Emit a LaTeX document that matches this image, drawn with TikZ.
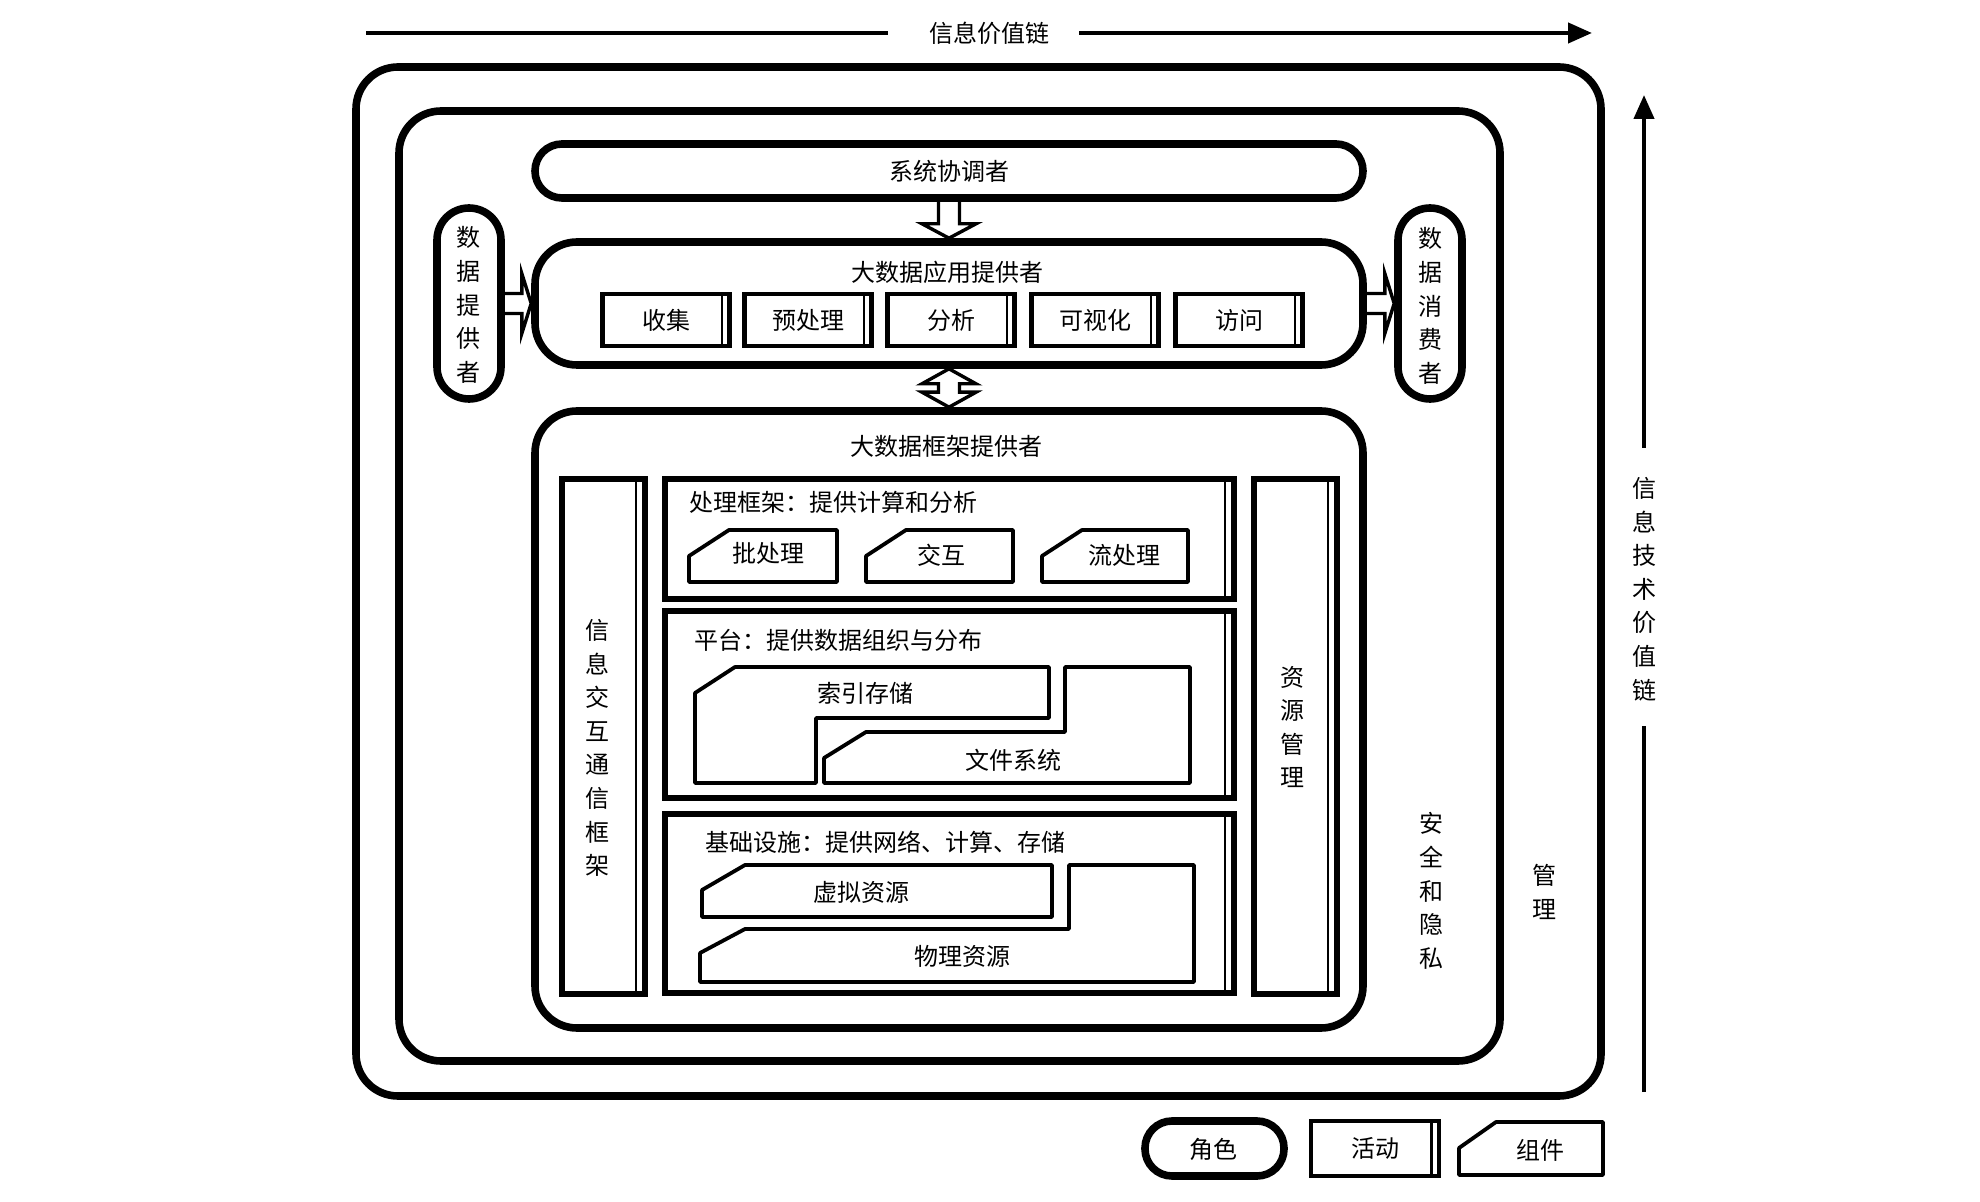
\documentclass[tikz,border=0pt]{standalone}
\usepackage{fontspec}
\newfontfamily\cjk{Noto Sans CJK SC}
\usetikzlibrary{fit,calc,arrows.meta}
\begin{document}
\begin{tikzpicture}[x=0.5pt,y=-0.5pt,
  txt/.style={font=\cjk\fontsize{12pt}{16.8pt}\selectfont, inner sep=0pt, align=center},
  rolebox/.style={draw, line width=3.8pt, rounded corners=21pt, inner sep=0pt},
  pillh/.style={rolebox, rounded corners=13.5pt},
  pillv/.style={rolebox, rounded corners=16pt},
  actbox/.style={draw, line width=2.2pt, inner sep=0pt, minimum width=63.5pt, minimum height=26pt,
    font=\cjk\fontsize{12pt}{16.8pt}\selectfont,
    path picture={\draw[line width=1.1pt] ([xshift=-3.8pt]path picture bounding box.north east) -- ([xshift=-3.8pt]path picture bounding box.south east);}},
  framebox/.style={draw, line width=2.8pt, inner sep=0pt,
    path picture={\draw[line width=1.2pt] ([xshift=-4.6pt]path picture bounding box.north east) -- ([xshift=-4.6pt]path picture bounding box.south east);}},
  comp/.style={draw, line width=1.9pt, line join=round},
  blockarrow/.style={draw, line width=1.7pt, line join=miter},
  chain/.style={line width=2.1pt},
  chaintip/.style={-{Triangle[length=12pt,width=10pt]}}
]
\useasboundingbox (0,0) rectangle (1980,1202);

% information value chain (top)
\coordinate (vcA) at (366,33);
\coordinate (vcB) at (888,33);
\coordinate (vcC) at (1079,33);
\coordinate (vcD) at (1592,33);
\node[txt] (vct) at (989,33) {信息价值链};
\draw[chain] (vcA) -- (vcB);
\draw[chain, chaintip] (vcC) -- (vcD);

% IT value chain (right)
\coordinate (itA) at (1644,1092);
\coordinate (itB) at (1644,726);
\coordinate (itC) at (1644,448);
\coordinate (itD) at (1644,95);
\node[txt] (itt) at (1644,589) {信\\息\\技\\术\\价\\值\\链};
\draw[chain] (itA) -- (itB);
\draw[chain, chaintip] (itC) -- (itD);

% management and security frames
\node[rolebox, fit={(356,67) (1601,1096)}] (mgmt) {};
\node[rolebox, fit={(399,111) (1500,1061)}] (sec) {};
\node[txt] (sect) at (1431,891) {安\\全\\和\\隐\\私};
\node[txt] (mgmtt) at (1544,892) {管\\理};

% system orchestrator
\node[pillh, fit={(535,144) (1363,198)}] (coord) {};
\node[txt] (coordt) at (949,171) {系统协调者};

% application provider
\node[rolebox, fit={(535,242) (1363,365)}] (app) {};
\node[txt] (appt) at (947,272) {大数据应用提供者};
\node[actbox] (a1) at (666,320) {收集};
\node[actbox] (a2) at (808,320) {预处理};
\node[actbox] (a3) at (951,320) {分析};
\node[actbox] (a4) at (1095,320) {可视化};
\node[actbox] (a5) at (1239,320) {访问};

% data provider / consumer
\node[pillv, fit={(437,208) (501,399)}] (dp) {};
\node[txt] (dpt) at (468,305) {数\\据\\提\\供\\者};
\node[pillv, fit={(1398,208) (1462,399)}] (dc) {};
\node[txt] (dct) at (1430,306) {数\\据\\消\\费\\者};

% framework provider
\node[rolebox, fit={(535,411) (1363,1028)}] (fw) {};
\node[txt] (fwt) at (946,446) {大数据框架提供者};

\node[framebox, fit={(562,479) (645,994)}] (comm) {};
\node[txt] (commt) at (597,748) {信\\息\\交\\互\\通\\信\\框\\架};
\node[framebox, fit={(1254,479) (1337,994)}] (res) {};
\node[txt] (rest) at (1292,727) {资\\源\\管\\理};

% processing frameworks
\node[framebox, fit={(665,479) (1234,599)}] (proc) {};
\node[txt, anchor=west] (proct) at (689,502) {处理框架：提供计算和分析};
\draw[comp] (689,582) -- (689,556) -- (729,530) -- (837,530) -- (837,582) -- cycle;
\node[txt] (c1) at (768,553) {批处理};
\draw[comp] (866,582) -- (866,556) -- (906,530) -- (1013,530) -- (1013,582) -- cycle;
\node[txt] (c2) at (941,555) {交互};
\draw[comp] (1042,582) -- (1042,556) -- (1082,530) -- (1188,530) -- (1188,582) -- cycle;
\node[txt] (c3) at (1124,555) {流处理};

% platforms
\node[framebox, fit={(665,611) (1234,798)}] (plat) {};
\node[txt, anchor=west] (platt) at (694,640) {平台：提供数据组织与分布};
\draw[comp] (695,783) -- (695,693) -- (735,667) -- (1049,667) -- (1049,718) -- (816,718) -- (816,783) -- cycle;
\node[txt] (c4) at (865,693) {索引存储};
\draw[comp] (824,783) -- (824,758) -- (866,732) -- (1065,732) -- (1065,667) -- (1190,667) -- (1190,783) -- cycle;
\node[txt] (c5) at (1013,760) {文件系统};

% infrastructures
\node[framebox, fit={(665,814) (1234,993)}] (infra) {};
\node[txt, anchor=west] (infrat) at (705,842) {基础设施：提供网络、计算、存储};
\draw[comp] (702,917) -- (702,890) -- (745,865) -- (1052,865) -- (1052,917) -- cycle;
\node[txt] (c6) at (861,892) {虚拟资源};
\draw[comp] (700,982) -- (700,953) -- (745,929) -- (1069,929) -- (1069,865) -- (1194,865) -- (1194,982) -- cycle;
\node[txt] (c7) at (962,956) {物理资源};

% block arrows
\draw[blockarrow] ($(coord.south)+(-10.5,0)$) -- ($(coord.south)+(-10.5,22)$) -- ($(coord.south)+(-27,22)$)
  -- (app.north) -- ($(coord.south)+(27,22)$) -- ($(coord.south)+(10.5,22)$) -- ($(coord.south)+(10.5,0)$);
\draw[blockarrow] ($(dp.east)+(0,-10)$) -- ($(dp.east)+(17,-10)$) -- ($(dp.east)+(17,-30)$)
  -- (app.west) -- ($(dp.east)+(17,30)$) -- ($(dp.east)+(17,10)$) -- ($(dp.east)+(0,10)$);
\draw[blockarrow] ($(app.east)+(0,-10)$) -- ($(app.east)+(18,-10)$) -- ($(app.east)+(18,-30)$)
  -- (dc.west) -- ($(app.east)+(18,30)$) -- ($(app.east)+(18,10)$) -- ($(app.east)+(0,10)$);
\draw[blockarrow] (app.south) -- ($(app.south)+(27,15)$) -- ($(app.south)+(10.5,15)$)
  -- ($(fw.north)+(10.5,-15)$) -- ($(fw.north)+(27,-15)$) -- (fw.north)
  -- ($(fw.north)+(-27,-15)$) -- ($(fw.north)+(-10.5,-15)$)
  -- ($(app.south)+(-10.5,15)$) -- ($(app.south)+(-27,15)$) -- cycle;

% legend
\node[pillh, fit={(1145,1121) (1284,1176)}] (lrole) {};
\node[txt] (lrolet) at (1213,1149) {角色};
\node[actbox, minimum width=64pt, minimum height=27.5pt] (lact) at (1375,1148.5) {活动};
\draw[comp] (1459,1175) -- (1459,1148) -- (1496,1122) -- (1603,1122) -- (1603,1175) -- cycle;
\node[txt] (lcomp) at (1540,1150) {组件};
\end{tikzpicture}
\end{document}
